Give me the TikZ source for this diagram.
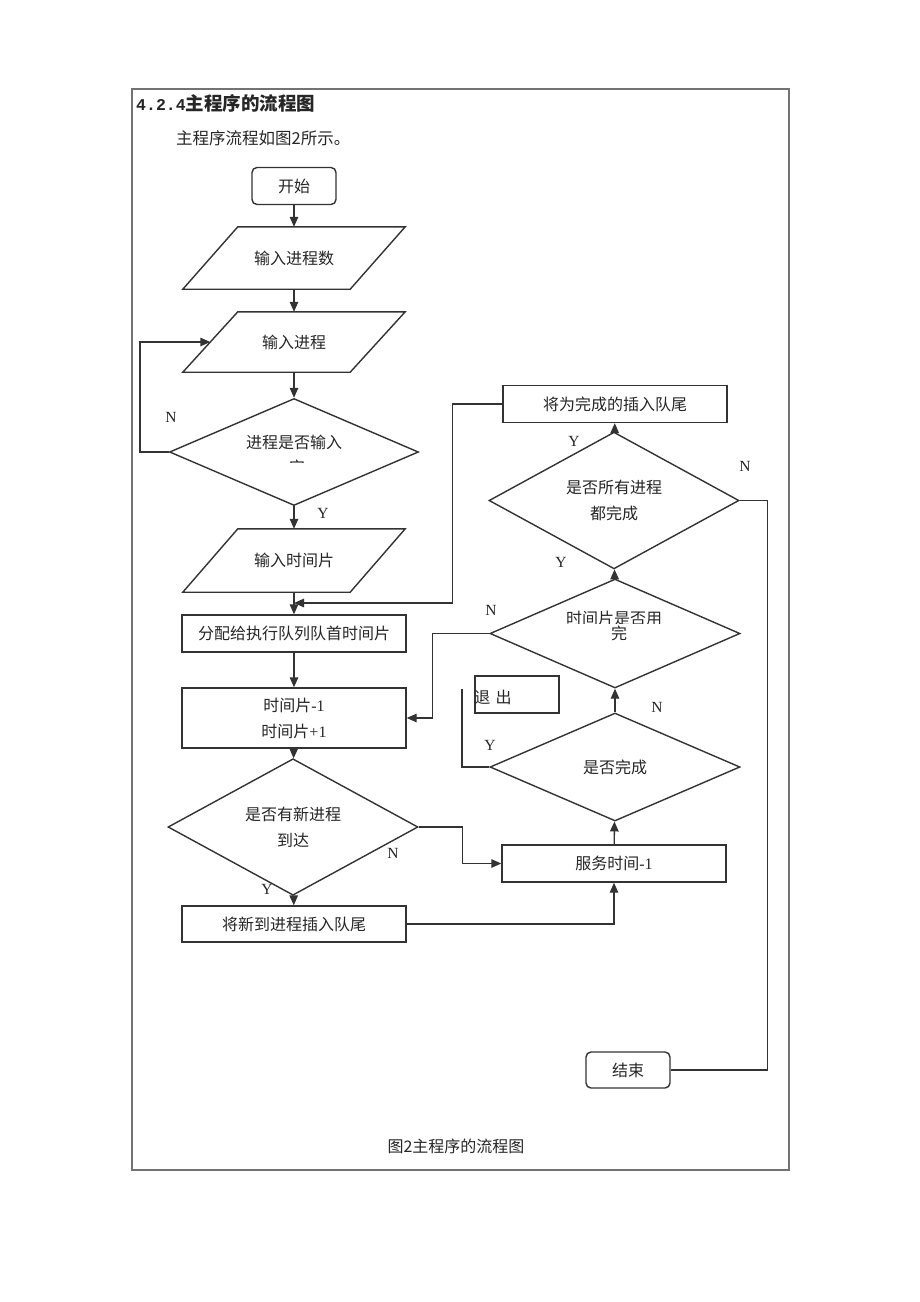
\documentclass[tikz,border=0pt]{standalone}
\usepackage{fontspec}
\setmainfont{Liberation Serif}
\newfontfamily\cjk{Noto Sans CJK SC}
\newfontfamily\monof{Liberation Mono}
\usetikzlibrary{arrows.meta,shapes.geometric}
\newcommand\zh[1]{{\cjk #1}}
\definecolor{lc}{HTML}{333333}
\begin{document}
\begin{tikzpicture}[x=1pt,y=-1pt,
  every node/.style={text=black!85},
  line/.style={draw=lc,line width=1.4pt},
  arr/.style={line,-{Triangle[length=10pt,width=8.5pt]}},
  txt/.style={font=\cjk\fontsize{16}{26}\selectfont},
  box/.style={line,rectangle,minimum width=224,minimum height=37,inner sep=0,txt},
  rbox/.style={box,rounded corners=5pt,minimum width=84},
  dia/.style={line,diamond,minimum width=250,minimum height=108,inner sep=0,align=center,txt},
  para/.style={rectangle,minimum width=222,minimum height=62,inner sep=0,txt,
    append after command={\pgfextra{\draw[line] ([xshift=55]\tikzlastnode.north west) -- (\tikzlastnode.north east) -- ([xshift=-55]\tikzlastnode.south east) -- (\tikzlastnode.south west) -- cycle;}}},
  lab/.style={font=\fontsize{15.5}{18}\selectfont}]
\useasboundingbox (0,0) rectangle (920,1302);
\fill[white] (0,0) rectangle (920,1302);
% frame
\draw[black!55,line width=1.2pt] (132,89) rectangle (789,1170);
\node[anchor=west,inner sep=0] (title) at (136,103) {{\monof\bfseries\fontsize{16.5}{18}\selectfont 4.2.4}{\cjk\bfseries\fontsize{18.5}{20}\selectfont 主程序的流程图}};
\node[anchor=west,inner sep=0,font=\cjk\fontsize{16.5}{18}\selectfont] (sub) at (176,138) {主程序流程如图2所示。};
% left column
\node[rbox] (start) at (294,186) {开始};
\node[para] (p1) at (294,258) {输入进程数};
\node[para,minimum height=60] (p2) at (294,342) {输入进程};
\node[dia,minimum width=249,minimum height=107] (d1) at (294,452) {};
\node[txt,inner sep=0] (d1t) at (294,442) {进程是否输入};
\begin{scope}
  \clip (280,452) rectangle (315,462);
  \node[txt,inner sep=0] (d1u) at (297,467) {完};
\end{scope}
\node[para,minimum height=63] (p3) at (294,560.5) {输入时间片};
\node[box] (b1) at (294,633.5) {分配给执行队列队首时间片};
\node[box,minimum height=60,align=center] (b2) at (294,718) {时间片{\rmfamily -1}\\时间片{\rmfamily +1}};
\node[dia] (d2) at (293,827) {是否有新进程\\到达};
\node[box,minimum height=36] (b3) at (294,924) {将新到进程插入队尾};
\coordinate (j) at (294,603);
% right column
\node[box] (b4) at (615,404) {将为完成的插入队尾};
\node[dia,minimum height=107] (d3) at (614,500.5) {是否所有进程\\都完成};
\node[dia,minimum height=109] (d4) at (615,633.5) {};
\begin{scope}
  \clip (550,600) rectangle (680,623);
  \node[txt,inner sep=0] (d4t) at (614,618) {时间片是否用};
\end{scope}
\node[txt,inner sep=0] (d4u) at (619,633) {完};
\node[dia] (d5) at (615,767) {是否完成};
\node[box] (b5) at (614,863.5) {服务时间{\rmfamily -1}};
\node[box,minimum width=84] (b6) at (517,694.5) {};
\node[txt,inner sep=0] (b6t) at (493,697) {退\,\,出};
\coordinate (ex) at (462,689);
\node[rbox,minimum height=36] (end) at (628,1070) {结束};
% connectors
\draw[arr] (start) -- (p1);
\draw[arr] (p1) -- (p2);
\draw[arr] (p2) -- (d1);
\draw[arr] (d1.west) -- ++(-29,0) |- ([xshift=27.5]p2.west);
\draw[arr] (d1) -- (p3);
\draw[arr] (p3) -- (b1);
\draw[arr] (b4.west) -- ++(-50,0) |- (j);
\draw[arr] (b1) -- (b2);
\draw[arr] (b2) -- (d2);
\draw[arr] (d2) -- (b3);
\draw[arr] (d2.east) -- ++(44,0) |- (b5.west);
\draw[arr] (b3.east) -| (b5.south);
\draw[arr] (b5) -- (d5);
\draw[line] (d5.west) -| (ex);
\draw[arr] (d5) -- (d4);
\draw[arr] (d4.west) -- ++(-57,0) |- (b2.east);
\draw[arr] (d4) -- (d3);
\draw[arr] (d3) -- (b4);
\draw[line,line width=1.1pt] (d3.east) -- ++(28,0) |- (end.east);
% labels
\node[lab] (n1) at (171,417) {N};
\node[lab] (y1) at (323,513) {Y};
\node[lab] (n2) at (393,853) {N};
\node[lab] (y2) at (267,889) {Y};
\node[lab] (y3) at (574,441) {Y};
\node[lab] (n3) at (745,466) {N};
\node[lab] (y4) at (561,562) {Y};
\node[lab] (n4) at (491,610) {N};
\node[lab] (n5) at (657,707) {N};
\node[lab] (y5) at (490,745) {Y};
\node[txt,inner sep=0] (cap) at (456,1146) {图2主程序的流程图};
\end{tikzpicture}
\end{document}
